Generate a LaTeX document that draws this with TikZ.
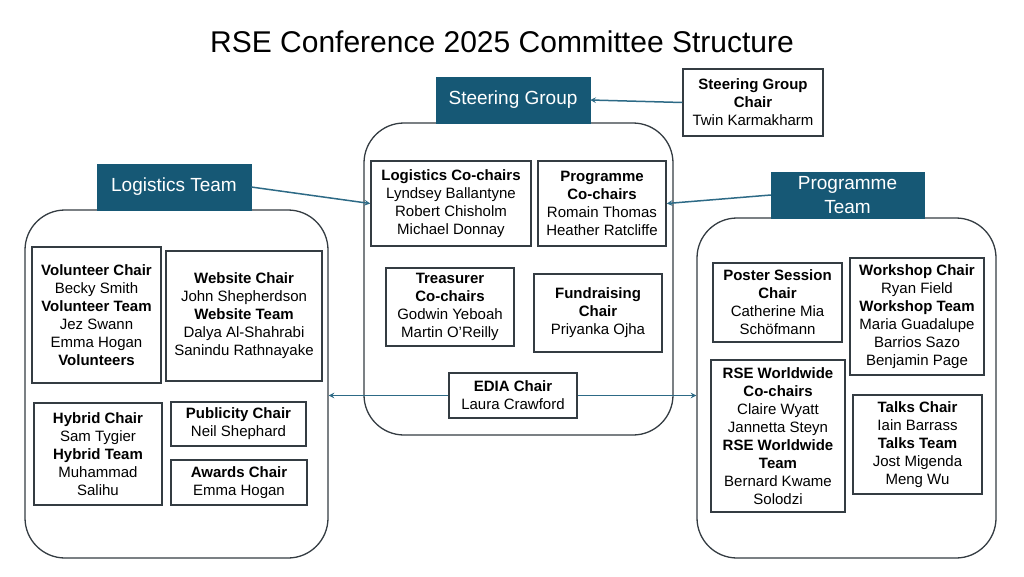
\documentclass[tikz,border=0pt]{standalone}
\usepackage{fontspec}
\setmainfont{Liberation Sans}
\usepackage{tikz}
\usetikzlibrary{shapes.geometric, arrows}
\definecolor{rseblue}{RGB}{22,88,117}
\definecolor{rseline}{RGB}{52,60,66}
\definecolor{rsearrow}{RGB}{45,106,134}
\tikzstyle{header} = [rectangle, fill=rseblue, draw=rseblue, text=white, minimum height=46pt, font=\fontsize{19}{24}\selectfont, align=center, inner sep=2pt]
\tikzstyle{group} = [rectangle, rounded corners=40pt, draw=rseline, line width=1.3pt]
\tikzstyle{role} = [rectangle, draw=rseline, line width=1.5pt, align=center, font=\fontsize{15}{18}\selectfont, inner sep=2pt]
\tikzstyle{arrow} = [line width=1.5pt, draw=rsearrow, ->, >=stealth]

\begin{document}
\begin{tikzpicture}[x=1pt, y=-1pt]
\useasboundingbox (0,0) rectangle (1024,576);
\node (title) at (502,42) {\fontsize{30}{34}\selectfont RSE Conference 2025 Committee Structure};

% steering group
\node (steerbox) [group, minimum width=309pt, minimum height=312pt] at (518.5,279) {};
\node (steerhead) [header, minimum width=154pt] at (513,100) {Steering Group};
\node (sgchair) [role, minimum width=140pt, minimum height=67pt] at (753,102.5) {\textbf{Steering Group}\\\textbf{Chair}\\Twin Karmakharm};
\node (logco) [role, minimum width=160pt, minimum height=85pt] at (451,203.5) {\textbf{Logistics Co-chairs}\\Lyndsey Ballantyne\\Robert Chisholm\\Michael Donnay};
\node (progco) [role, minimum width=128pt, minimum height=85pt] at (602,203.5) {\textbf{Programme}\\\textbf{Co-chairs}\\Romain Thomas\\Heather Ratcliffe};
\node (treas) [role, minimum width=128pt, minimum height=78pt] at (450,307) {\textbf{Treasurer}\\\textbf{Co-chairs}\\Godwin Yeboah\\Martin O’Reilly};
\node (fund) [role, minimum width=128pt, minimum height=78pt] at (598,313) {\textbf{Fundraising}\\\textbf{Chair}\\Priyanka Ojha};
\node (edia) [role, minimum width=128pt, minimum height=45pt] at (513,395.5) {\textbf{EDIA Chair}\\Laura Crawford};

% logistics team
\node (logbox) [group, minimum width=303pt, minimum height=348pt] at (176.5,384) {};
\node (loghead) [header, minimum width=154pt] at (174,187) {Logistics Team};
\node (vol) [role, minimum width=129pt, minimum height=136pt] at (96.5,315) {\textbf{Volunteer Chair}\\Becky Smith\\\textbf{Volunteer Team}\\Jez Swann\\Emma Hogan\\\textbf{Volunteers}};
\node (web) [role, minimum width=156pt, minimum height=130pt] at (244,316) {\textbf{Website Chair}\\John Shepherdson\\\textbf{Website Team}\\Dalya Al-Shahrabi\\Sanindu Rathnayake};
\node (hyb) [role, minimum width=128pt, minimum height=102pt] at (98,454) {\textbf{Hybrid Chair}\\Sam Tygier\\\textbf{Hybrid Team}\\Muhammad\\Salihu};
\node (pub) [role, minimum width=135pt, minimum height=44pt] at (238.5,424) {\textbf{Publicity Chair}\\Neil Shephard};
\node (awd) [role, minimum width=136pt, minimum height=45pt] at (239,482.5) {\textbf{Awards Chair}\\Emma Hogan};

% programme team
\node (progbox) [group, minimum width=299pt, minimum height=340pt] at (846.5,388) {};
\node (proghead) [header, minimum width=153pt] at (847.5,195) {Programme\\Team};
\node (poster) [role, minimum width=129pt, minimum height=79pt] at (777.5,302.5) {\textbf{Poster Session}\\\textbf{Chair}\\Catherine Mia\\Schöfmann};
\node (wshop) [role, minimum width=134pt, minimum height=117pt] at (917,316.5) {\textbf{Workshop Chair}\\Ryan Field\\\textbf{Workshop Team}\\Maria Guadalupe\\Barrios Sazo\\Benjamin Page};
\node (rsew) [role, minimum width=134pt, minimum height=152pt] at (778,436) {\textbf{RSE Worldwide}\\\textbf{Co-chairs}\\Claire Wyatt\\Jannetta Steyn\\\textbf{RSE Worldwide}\\\textbf{Team}\\Bernard Kwame\\Solodzi};
\node (talks) [role, minimum width=129pt, minimum height=99pt] at (917.5,444.5) {\textbf{Talks Chair}\\Iain Barrass\\\textbf{Talks Team}\\Jost Migenda\\Meng Wu};

% connectors
\draw [arrow] (sgchair.west) -- (steerhead.east);
\draw [arrow] (loghead.east) -- (logco.west);
\draw [arrow] (proghead.west) -- (progco.east);
\draw [arrow] (edia.west) -- (edia.west -| logbox.east);
\draw [arrow] (edia.east) -- (edia.east -| progbox.west);
\end{tikzpicture}
\end{document}
